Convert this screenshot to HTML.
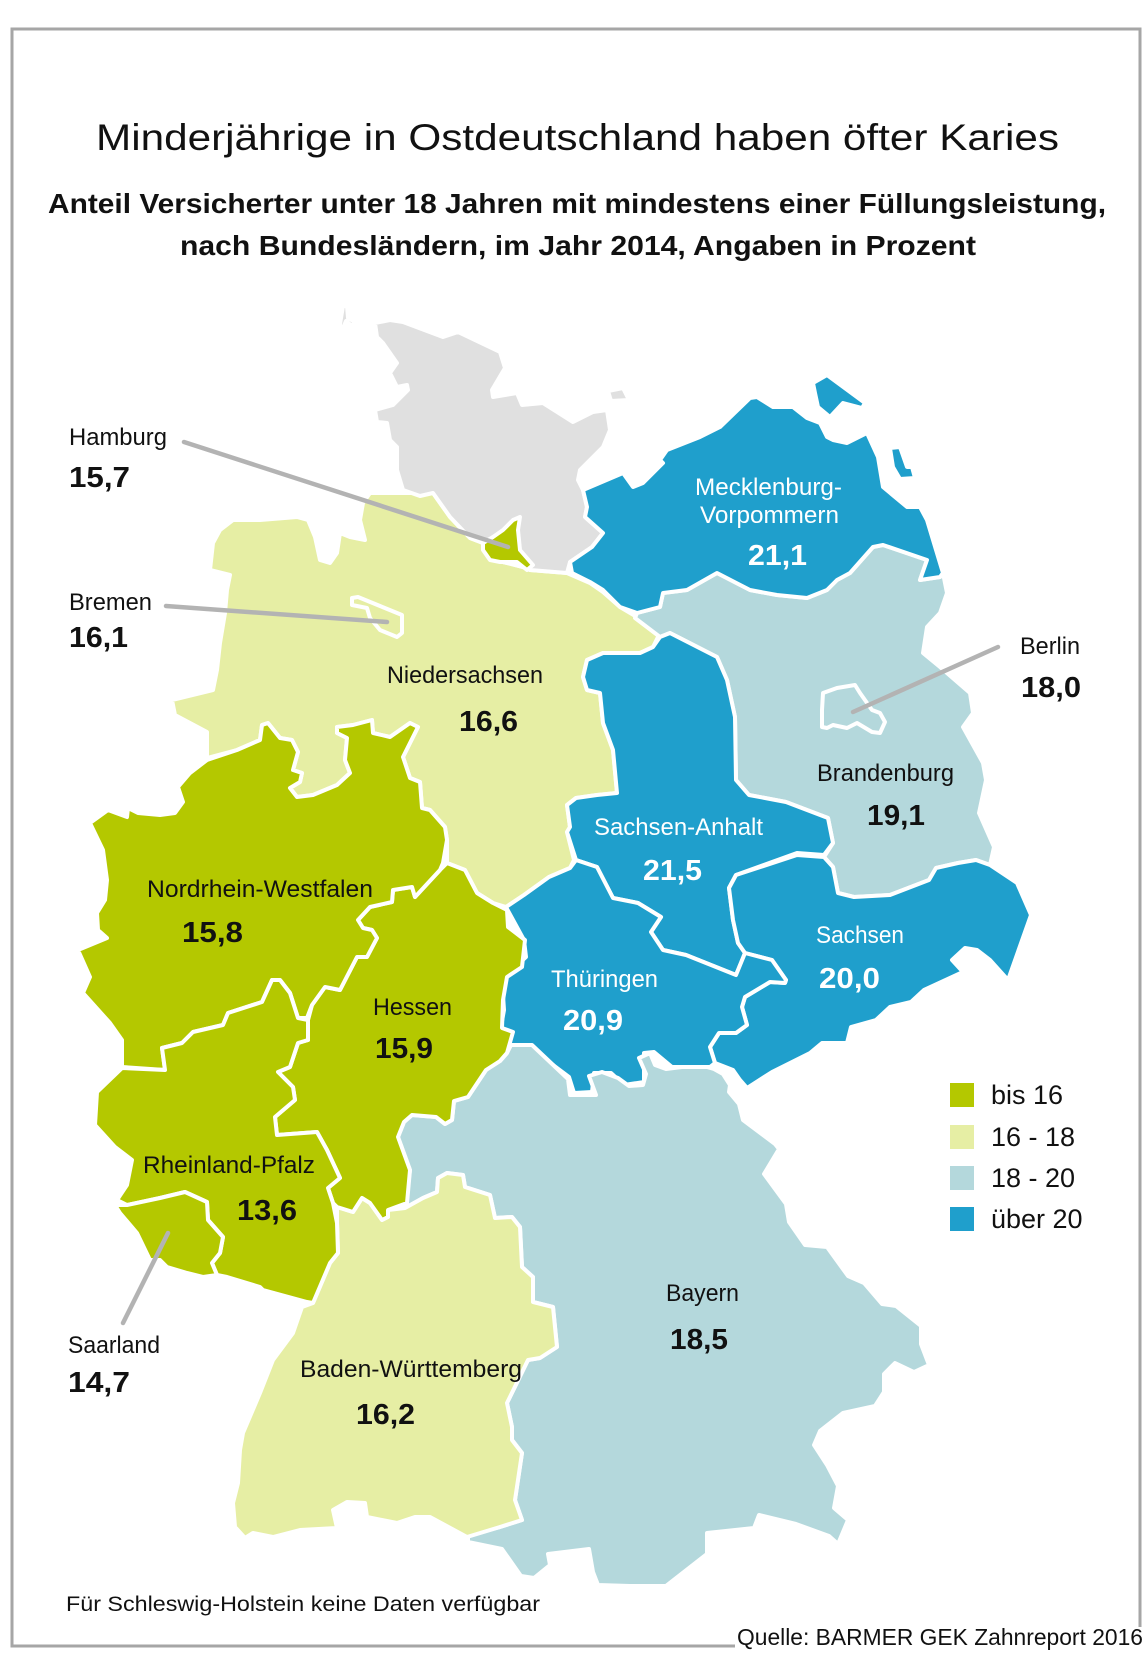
<!DOCTYPE html>
<html><head><meta charset="utf-8">
<style>
html,body{margin:0;padding:0;background:#fff;}
svg{display:block;}
text{font-family:"Liberation Sans",sans-serif;}
</style></head>
<body>
<svg width="1146" height="1661" viewBox="0 0 1146 1661" xmlns="http://www.w3.org/2000/svg">
<rect width="1146" height="1661" fill="#fff"/>
<path d="M735,1646 H12 V29 H1140 V1627" fill="none" stroke="#a6a6a6" stroke-width="3"/>

<text x="96" y="150" font-size="37" fill="#111" textLength="963" lengthAdjust="spacingAndGlyphs">Minderjährige in Ostdeutschland haben öfter Karies</text>
<text x="48" y="213" font-size="28" font-weight="bold" fill="#111" textLength="1058" lengthAdjust="spacingAndGlyphs">Anteil Versicherter unter 18 Jahren mit mindestens einer Füllungsleistung,</text>
<text x="180" y="255" font-size="28" font-weight="bold" fill="#111" textLength="796" lengthAdjust="spacingAndGlyphs">nach Bundesländern, im Jahr 2014, Angaben in Prozent</text>

<g stroke="#fff" stroke-width="4" stroke-linejoin="round">
<!-- Niedersachsen -->
<polygon fill="#e6eea4" points="220,530 233,520 260,520 297,517 308,520 315,537 320,560 330,563 337,553 340,533 350,537 365,540 360,520 363,503 370,493 433,493 450,517 470,538 483,543 490,557 503,562 523,567 530,570 567,573 590,583 603,592 620,607 637,617 660,633 653,647 640,653 603,653 587,660 583,677 587,690 600,693 603,723 613,750 617,793 597,795 576,798 567,805 570,827 567,832 574,860 570,868 549,877 524,895 506,907 493,903 477,893 465,870 447,863 447,840 445,827 430,810 422,808 420,782 410,778 403,757 418,727 410,723 390,737 373,733 372,720 353,725 337,727 337,733 347,738 345,760 350,773 337,785 313,795 297,797 290,788 300,782 302,773 293,770 298,752 292,740 280,738 268,723 262,725 260,740 237,750 207,758 207,732 175,715 172,700 213,690 217,670 220,643 225,613 227,590 230,575 210,570 213,543"/>
<!-- Schleswig-Holstein -->
<polygon fill="#e0e0e0" points="375,323 390,320 403,322 443,337 458,332 500,352 505,368 492,390 493,397 517,393 522,405 543,403 573,422 593,412 607,410 610,430 603,447 580,470 578,480 583,490 587,507 585,517 603,533 592,547 570,562 567,573 530,570 523,567 503,562 490,557 483,543 470,538 450,517 433,493 420,496 403,490 397,470 397,447 390,440 387,423 377,422 375,410 393,405 408,390 407,385 397,387 390,373 397,363 383,343 377,337"/>
<polygon fill="#e0e0e0" points="608,391 623,388 629,400 611,401"/>
<polygon fill="#e0e0e0" points="343,306 347,306 348,318 355,322 352,326 346,321 341,333 340,324"/>
<!-- Brandenburg -->
<polygon fill="#b4d8dc" points="635,618 637,613 660,607 663,593 687,590 717,573 750,590 777,595 807,598 827,590 837,580 850,573 873,547 883,545 927,560 920,580 940,577 943,573 947,593 940,613 927,627 923,653 940,667 970,693 973,713 963,727 983,763 986,780 979,813 994,847 990,865 976,860 958,863 936,868 929,880 890,895 854,897 838,893 833,867 824,857 833,843 828,818 786,802 749,795 736,780 735,717 727,680 717,657 670,633 660,637"/>
<!-- Mecklenburg-Vorpommern -->
<polygon fill="#1f9fcc" points="570,562 572,573 590,582 603,590 620,607 637,613 660,607 663,593 687,590 717,573 750,590 777,595 807,598 827,590 837,580 850,573 873,547 883,545 927,560 920,580 940,577 943,573 927,520 920,507 907,507 883,487 878,457 867,433 847,443 833,440 827,437 820,423 807,418 793,407 773,407 757,397 750,398 720,427 700,437 667,450 660,460 663,463 643,483 633,487 623,473 583,490 587,507 585,517 603,533 592,547"/>
<polygon fill="#1f9fcc" points="813,383 827,375 865,403 862,408 843,403 830,417 818,407 815,393"/>
<polygon fill="#1f9fcc" points="890,448 900,447 907,467 912,467 915,478 900,479 893,467"/>
<!-- Sachsen-Anhalt -->
<polygon fill="#1f9fcc" points="660,637 670,633 717,657 727,680 735,717 736,780 749,795 786,802 828,818 833,843 824,855 797,853 736,875 729,888 733,920 738,943 745,953 736,975 686,955 663,950 651,932 661,917 638,903 613,898 597,867 576,860 567,832 570,827 567,805 576,798 597,795 617,793 613,750 603,723 600,693 587,690 583,677 587,660 603,653 640,653 653,647"/>
<!-- Sachsen -->
<polygon fill="#1f9fcc" points="736,875 797,855 824,857 833,867 838,893 854,897 890,895 929,880 936,868 958,863 976,860 990,865 1017,883 1031,915 1008,980 990,960 977,950 965,948 952,960 963,972 924,990 911,1002 890,1007 876,1020 851,1027 847,1043 822,1043 810,1053 772,1072 747,1088 740,1080 733,1070 715,1063 710,1047 719,1033 736,1033 747,1025 742,1007 745,997 770,982 785,983 786,980 772,960 745,953 738,943 733,920 729,888"/>
<!-- Thüringen -->
<polygon fill="#1f9fcc" points="506,907 524,895 549,877 570,868 576,860 597,867 613,898 638,903 661,917 651,932 663,950 686,955 736,975 745,953 772,960 786,980 785,983 770,982 745,997 742,1007 747,1025 736,1033 719,1033 710,1047 715,1063 710,1067 672,1067 654,1052 644,1053 644,1082 624,1085 611,1073 594,1073 592,1092 574,1093 569,1077 529,1047 510,1047 501,1027 504,1010 502,980 515,967 526,957 524,940"/>
<!-- Bayern -->
<polygon fill="#b4d8dc" points="404,1122 412,1115 436,1117 445,1124 452,1120 454,1101 468,1097 486,1070 500,1061 507,1053 511,1045 532,1045 568,1079 570,1095 596,1095 589,1076 602,1072 618,1078 629,1086 643,1085 646,1074 639,1058 650,1053 655,1065 666,1069 682,1067 707,1067 714,1069 723,1074 730,1085 729,1092 739,1104 743,1120 775,1144 779,1149 764,1174 786,1204 789,1222 805,1245 827,1247 848,1276 864,1283 882,1304 896,1306 921,1326 921,1344 929,1365 914,1372 895,1363 884,1374 884,1392 875,1406 843,1413 820,1431 814,1445 827,1465 838,1486 834,1508 848,1520 838,1544 829,1536 796,1524 759,1515 754,1528 707,1533 707,1554 666,1586 630,1586 598,1585 593,1572 589,1549 548,1554 550,1565 534,1578 521,1576 502,1549 468,1542 468,1535 500,1527 522,1520 515,1500 522,1453 512,1440 512,1427 507,1403 528,1360 540,1358 557,1347 553,1307 533,1302 533,1277 522,1267 520,1227 512,1217 495,1218 490,1195 465,1187 463,1175 447,1173 438,1178 437,1192 423,1198 405,1208 410,1170 398,1137"/>
<!-- Baden-Württemberg -->
<polygon fill="#e6eea4" points="405,1208 423,1198 437,1192 438,1178 447,1173 463,1175 465,1187 490,1195 495,1218 512,1217 520,1227 522,1267 533,1277 533,1302 553,1307 557,1347 540,1358 528,1360 507,1403 512,1427 512,1440 522,1453 515,1500 522,1520 500,1527 467,1537 430,1517 415,1517 397,1523 367,1517 365,1503 347,1502 333,1510 337,1528 300,1530 273,1537 253,1533 245,1538 235,1527 233,1503 238,1483 240,1450 243,1433 260,1393 273,1360 293,1333 302,1307 313,1303 330,1263 338,1253 337,1223 337,1207 353,1212 362,1198 370,1203 382,1220 388,1217 388,1210"/>
<!-- Hessen -->
<polygon fill="#b4c800" points="440,870 447,863 465,870 477,893 493,903 507,910 508,927 525,940 522,967 507,977 503,1000 502,1028 513,1032 507,1053 500,1061 486,1070 468,1097 454,1101 452,1120 445,1124 436,1117 412,1115 404,1122 398,1137 410,1170 407,1203 388,1210 388,1217 382,1220 370,1203 362,1198 353,1212 337,1207 333,1203 328,1188 340,1178 327,1150 317,1132 277,1135 275,1117 295,1100 293,1087 278,1072 290,1067 298,1043 308,1040 308,1020 312,1005 325,987 340,990 357,957 367,957 377,938 372,930 363,928 358,920 370,907 392,902 393,890 412,887 415,897"/>
<!-- Nordrhein-Westfalen -->
<polygon fill="#b4c800" points="90,823 108,810 127,817 128,808 138,813 160,815 175,813 183,802 178,787 190,773 207,760 237,750 260,740 262,725 268,723 280,738 292,740 298,752 293,770 302,773 300,782 290,788 297,797 313,795 337,785 350,773 345,760 347,738 337,733 337,727 353,725 372,720 373,733 390,737 410,723 418,727 403,757 410,778 420,782 422,808 430,810 445,827 447,840 443,863 440,870 415,897 412,887 393,890 392,902 370,907 358,920 363,928 372,930 377,938 367,957 357,957 340,990 325,987 312,1005 307,1018 298,1018 290,993 280,980 272,980 262,1002 228,1013 223,1025 193,1032 182,1043 162,1048 165,1070 122,1067 122,1040 110,1023 83,993 90,977 78,950 107,938 98,930 97,913 105,900 107,880 103,850"/>
<!-- Rheinland-Pfalz -->
<polygon fill="#b4c800" points="122,1068 165,1070 162,1048 182,1043 193,1032 223,1025 228,1013 262,1002 272,980 280,980 290,993 298,1018 308,1020 308,1040 298,1043 290,1067 278,1072 293,1087 295,1100 275,1117 277,1135 317,1132 327,1150 340,1178 328,1188 333,1203 337,1223 338,1253 330,1263 313,1303 307,1302 263,1290 260,1287 227,1277 217,1275 212,1263 220,1253 223,1237 208,1220 207,1202 185,1192 160,1198 127,1205 117,1200 127,1185 132,1160 115,1147 95,1125 97,1092"/>
<!-- Saarland -->
<polygon fill="#b4c800" points="115,1205 127,1205 160,1198 185,1192 207,1202 208,1220 223,1237 220,1253 212,1263 217,1275 203,1277 187,1273 167,1267 160,1260 150,1260 137,1233 120,1213"/>
<!-- Hamburg -->
<polygon fill="#b4c800" points="483,543 493,537 503,530 513,520 520,517 518,530 520,550 533,565 527,570 517,562 500,562 490,560 483,550"/>
<!-- Bremen -->
<polygon fill="#e6eea4" points="352,598 358,597 402,615 402,633 397,637 380,630 370,618 367,608 352,605"/>
<!-- Berlin -->
<polygon fill="#b4d8dc" points="823,693 837,688 855,685 860,693 872,710 880,713 885,722 880,733 872,732 857,723 847,728 833,725 827,728 822,727 822,710"/>
</g>

<g stroke="#b3b3b3" stroke-width="4.5" stroke-linecap="round" fill="none">
<line x1="184" y1="442" x2="508" y2="547"/>
<line x1="166" y1="606" x2="387" y2="622"/>
<line x1="998" y1="647" x2="853" y2="712"/>
<line x1="168" y1="1233" x2="123" y2="1323"/>
</g>

<g font-size="24" fill="#111">
<text x="69" y="445" textLength="98" lengthAdjust="spacingAndGlyphs">Hamburg</text>
<text x="69" y="610" textLength="83" lengthAdjust="spacingAndGlyphs">Bremen</text>
<text x="1020" y="654" textLength="60" lengthAdjust="spacingAndGlyphs">Berlin</text>
<text x="68" y="1353" textLength="92" lengthAdjust="spacingAndGlyphs">Saarland</text>
<text x="387" y="683" textLength="156" lengthAdjust="spacingAndGlyphs">Niedersachsen</text>
<text x="817" y="781" textLength="137" lengthAdjust="spacingAndGlyphs">Brandenburg</text>
<text x="147" y="897" textLength="226" lengthAdjust="spacingAndGlyphs">Nordrhein-Westfalen</text>
<text x="373" y="1015" textLength="79" lengthAdjust="spacingAndGlyphs">Hessen</text>
<text x="143" y="1173" textLength="172" lengthAdjust="spacingAndGlyphs">Rheinland-Pfalz</text>
<text x="300" y="1377" textLength="222" lengthAdjust="spacingAndGlyphs">Baden-Württemberg</text>
<text x="666" y="1301" textLength="73" lengthAdjust="spacingAndGlyphs">Bayern</text>
</g>
<g font-size="24" fill="#fff">
<text x="695" y="495" textLength="147" lengthAdjust="spacingAndGlyphs">Mecklenburg-</text>
<text x="700" y="523" textLength="139" lengthAdjust="spacingAndGlyphs">Vorpommern</text>
<text x="594" y="835" textLength="169" lengthAdjust="spacingAndGlyphs">Sachsen-Anhalt</text>
<text x="816" y="943" textLength="88" lengthAdjust="spacingAndGlyphs">Sachsen</text>
<text x="551" y="987" textLength="107" lengthAdjust="spacingAndGlyphs">Thüringen</text>
</g>
<g font-size="29" font-weight="bold" fill="#111">
<text x="69" y="487" textLength="61" lengthAdjust="spacingAndGlyphs">15,7</text>
<text x="69" y="647" textLength="59" lengthAdjust="spacingAndGlyphs">16,1</text>
<text x="1021" y="697" textLength="60" lengthAdjust="spacingAndGlyphs">18,0</text>
<text x="68" y="1392" textLength="62" lengthAdjust="spacingAndGlyphs">14,7</text>
<text x="459" y="731" textLength="59" lengthAdjust="spacingAndGlyphs">16,6</text>
<text x="867" y="825" textLength="58" lengthAdjust="spacingAndGlyphs">19,1</text>
<text x="182" y="942" textLength="61" lengthAdjust="spacingAndGlyphs">15,8</text>
<text x="375" y="1058" textLength="58" lengthAdjust="spacingAndGlyphs">15,9</text>
<text x="237" y="1220" textLength="60" lengthAdjust="spacingAndGlyphs">13,6</text>
<text x="356" y="1424" textLength="59" lengthAdjust="spacingAndGlyphs">16,2</text>
<text x="670" y="1349" textLength="58" lengthAdjust="spacingAndGlyphs">18,5</text>
</g>
<g font-size="29" font-weight="bold" fill="#fff">
<text x="748" y="565" textLength="59" lengthAdjust="spacingAndGlyphs">21,1</text>
<text x="643" y="880" textLength="59" lengthAdjust="spacingAndGlyphs">21,5</text>
<text x="819" y="988" textLength="61" lengthAdjust="spacingAndGlyphs">20,0</text>
<text x="563" y="1030" textLength="60" lengthAdjust="spacingAndGlyphs">20,9</text>
</g>

<!-- Legend -->
<rect x="950" y="1083" width="24" height="24" fill="#b4c800"/>
<rect x="950" y="1125" width="24" height="24" fill="#e6eea4"/>
<rect x="950" y="1166" width="24" height="24" fill="#b4d8dc"/>
<rect x="950" y="1207" width="24" height="24" fill="#1f9fcc"/>
<g font-size="27" fill="#111">
<text x="991" y="1104">bis 16</text>
<text x="991" y="1146">16 - 18</text>
<text x="991" y="1187">18 - 20</text>
<text x="991" y="1228">über 20</text>
</g>

<text x="66" y="1611" font-size="21" fill="#111" textLength="474" lengthAdjust="spacingAndGlyphs">Für Schleswig-Holstein keine Daten verfügbar</text>
<text x="737" y="1645" font-size="23" fill="#111" textLength="406" lengthAdjust="spacingAndGlyphs">Quelle: BARMER GEK Zahnreport 2016</text>
</svg>
</body></html>
